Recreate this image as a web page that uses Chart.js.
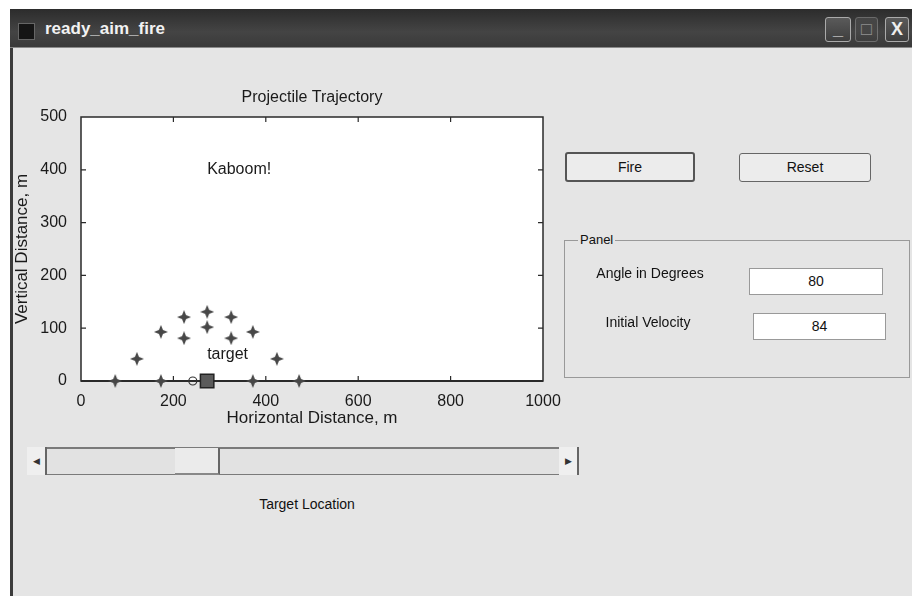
<!DOCTYPE html>
<html>
<head>
<meta charset="utf-8">
<script src="https://cdn.jsdelivr.net/npm/chart.js@4"></script>
<style>
  body { margin: 0; width: 912px; height: 596px; background: #fff; position: relative; overflow: hidden;
         font-family: "Liberation Sans", Arial, sans-serif; }
  .win { position: absolute; left: 10px; top: 9px; width: 902px; height: 587px; background: #e5e5e5;
         border-left: 3px solid #3c3c3c; box-sizing: border-box; }
  .titlebar { position: absolute; left: 10px; top: 9px; width: 902px; height: 38px;
              background: linear-gradient(#2c2c2c, #444 60%, #3a3a3a); border-bottom: 1px solid #8a8a8a; }
  .titlebar .txt { position: absolute; left: 35px; top: 10px; color: #f2f2f2; font-weight: bold; font-size: 17px; }
  .titlebar .ico { position: absolute; left: 8px; top: 14px; width: 15px; height: 15px; background: #151515;
                   border: 1px solid #666; }
  .wbtn { position: absolute; top: 8px; height: 25px; border: 1px solid #aaa; border-radius: 3px;
          background: linear-gradient(#5a5a5a, #3e3e3e); box-sizing: border-box; color: #eee; text-align: center;
          font-size: 18px; line-height: 22px; font-weight: bold; }
  .btn { position: absolute; background: #ececec; box-sizing: border-box; border-radius: 3px;
         font-size: 14px; text-align: center; color: #111; }
  .lbl { position: absolute; font-size: 14px; color: #111; transform: translate(-50%, -50%); white-space: nowrap; }
  .edit { position: absolute; background: #fff; border: 1px solid #999; box-sizing: border-box;
          font-size: 14px; text-align: center; color: #111; }
  #chartWrap { position: absolute; left: 0; top: 80px; width: 580px; height: 360px; }
</style>
</head>
<body>
<div class="win"></div>
<div class="titlebar">
  <div class="ico"></div>
  <div class="txt">ready_aim_fire</div>
  <div class="wbtn" style="left:815px;width:26px;">_</div>
  <div class="wbtn" style="left:845px;width:23px;opacity:0.45;">&#9633;</div>
  <div class="wbtn" style="left:875px;width:24px;">X</div>
</div>

<div id="chartWrap"><canvas id="traj" width="580" height="360"></canvas></div>

<div class="btn" style="left:565px;top:152px;width:130px;height:30px;border:2px solid #555;line-height:26px;">Fire</div>
<div class="btn" style="left:739px;top:153px;width:132px;height:29px;border:1px solid #666;line-height:27px;">Reset</div>

<div style="position:absolute;left:564px;top:240px;width:346px;height:138px;border:1px solid #999;box-sizing:border-box;"></div>
<div style="position:absolute;left:578px;top:232px;padding:0 2px;background:#e5e5e5;font-size:13px;color:#111;">Panel</div>
<div class="lbl" style="left:650px;top:273px;">Angle in Degrees</div>
<div class="edit" style="left:749px;top:268px;width:134px;height:27px;line-height:25px;">80</div>
<div class="lbl" style="left:648px;top:322px;">Initial Velocity</div>
<div class="edit" style="left:753px;top:313px;width:133px;height:27px;line-height:25px;">84</div>

<!-- slider -->
<div style="position:absolute;left:27px;top:447px;width:552px;height:28px;background:#e2e2e2;border-top:2px solid #7a7a7a;border-bottom:1px solid #7a7a7a;box-sizing:border-box;"></div>
<div style="position:absolute;left:27px;top:447px;width:20px;height:28px;background:#efefef;border-right:2px solid #666;box-sizing:border-box;font-size:9px;line-height:28px;text-align:center;color:#333;">&#9664;</div>
<div style="position:absolute;left:175px;top:448px;width:45px;height:27px;background:#ebebeb;border-right:2px solid #666;border-bottom:2px solid #888;box-sizing:border-box;"></div>
<div style="position:absolute;left:559px;top:447px;width:20px;height:28px;background:#efefef;border-right:2px solid #666;box-sizing:border-box;font-size:9px;line-height:28px;text-align:center;color:#333;">&#9654;</div>
<div class="lbl" style="left:307px;top:504px;">Target Location</div>

<script>
// values
const xTicks = [0, 200, 400, 600, 800, 1000];
const yTicks = [0, 100, 200, 300, 400, 500];
const burstX = [74, 173, 372, 472, 121, 424, 173, 372, 223, 325, 223, 325, 273, 273];
const burstY = [0, 0, 0, 0, 42, 42, 93, 93, 121, 121, 81, 81, 131, 102];
const launchX = [242];
const launchY = [0];
const targetX = [273];
const targetY = [0];
const notes = ['Kaboom!', 'target'];
const noteX = [273, 273];
const noteY = [400, 50];

const pts = (xs, ys) => xs.map((x, i) => ({x: x, y: ys[i]}));

// four pointed star marker
const star = document.createElement('canvas');
star.width = 14; star.height = 14;
const sc = star.getContext('2d');
sc.fillStyle = '#474747';
sc.beginPath();
sc.moveTo(7, 0); sc.lineTo(9, 5); sc.lineTo(14, 7); sc.lineTo(9, 9);
sc.lineTo(7, 14); sc.lineTo(5, 9); sc.lineTo(0, 7); sc.lineTo(5, 5);
sc.closePath(); sc.fill();
sc.fillRect(5, 5, 4, 4);

const FONT = '"Liberation Sans", Arial, sans-serif';

// matlab style box with inward ticks + text objects
const axesBox = {
  id: 'axesBox',
  afterDatasetsDraw(chart) {
    const {ctx, scales: {x, y}} = chart;
    ctx.save();
    ctx.fillStyle = '#1a1a1a';
    ctx.font = '16px ' + FONT;
    ctx.textAlign = 'left';
    ctx.textBaseline = 'middle';
    notes.forEach((t, i) => ctx.fillText(t, x.getPixelForValue(noteX[i]), y.getPixelForValue(noteY[i])));
    ctx.restore();
  },
  beforeDatasetsDraw(chart) {
    const {ctx, chartArea: a, scales: {x, y}} = chart;
    ctx.save();
    ctx.fillStyle = '#fff';
    ctx.fillRect(a.left, a.top, a.right - a.left, a.bottom - a.top);
    ctx.strokeStyle = '#2a2a2a';
    ctx.lineWidth = 1.5;
    ctx.strokeRect(a.left, a.top, a.right - a.left, a.bottom - a.top);
    ctx.lineWidth = 2;
    ctx.beginPath(); ctx.moveTo(a.left, a.bottom); ctx.lineTo(a.right, a.bottom); ctx.stroke();
    ctx.lineWidth = 1.2;
    ctx.beginPath();
    xTicks.slice(1, -1).forEach(v => {
      const px = x.getPixelForValue(v);
      ctx.moveTo(px, a.bottom); ctx.lineTo(px, a.bottom - 5);
      ctx.moveTo(px, a.top); ctx.lineTo(px, a.top + 5);
    });
    yTicks.slice(1, -1).forEach(v => {
      const py = y.getPixelForValue(v);
      ctx.moveTo(a.left, py); ctx.lineTo(a.left + 5, py);
      ctx.moveTo(a.right, py); ctx.lineTo(a.right - 5, py);
    });
    ctx.stroke();
    ctx.restore();
  }
};

const trajCtx = document.getElementById('traj').getContext('2d');
const traj = new Chart(trajCtx, {
  type: 'scatter',
  data: {
    datasets: [
      { label: 'burst', data: pts(burstX, burstY), pointStyle: star, clip: false },
      { label: 'launch', data: pts(launchX, launchY), pointStyle: 'circle', pointRadius: 4,
        backgroundColor: 'rgba(0,0,0,0)', borderColor: '#333', borderWidth: 1.2, clip: false },
      { label: 'target', data: pts(targetX, targetY), pointStyle: 'rect', pointRadius: 9.5,
        backgroundColor: '#5a5a5a', borderColor: '#222', borderWidth: 1.5, clip: false }
    ]
  },
  options: {
    responsive: false,
    animation: false,
    events: [],
    layout: { padding: { left: 0, right: 37, top: 0, bottom: 0 } },
    plugins: {
      legend: { display: false },
      tooltip: { enabled: false },
      title: {
        display: true,
        text: 'Projectile Trajectory',
        fullSize: false,
        color: '#1a1a1a',
        font: { family: FONT, size: 16, weight: 'normal' },
        padding: { top: 8, bottom: 9.8 }
      }
    },
    scales: {
      x: {
        type: 'linear', min: 0, max: 1000,
        afterBuildTicks: s => { s.ticks = xTicks.map(v => ({value: v})); },
        grid: { display: false },
        border: { display: false },
        ticks: { color: '#1a1a1a', font: { family: FONT, size: 16 }, padding: 3, maxRotation: 0,
                 callback: v => String(v) },
        title: { display: true, text: 'Horizontal Distance, m', color: '#1a1a1a',
                 font: { family: FONT, size: 17 }, padding: { top: 0, bottom: 11.8 } },
        afterFit: s => { s.height = 59; }
      },
      y: {
        type: 'linear', min: 0, max: 500,
        afterBuildTicks: s => { s.ticks = yTicks.map(v => ({value: v})); },
        grid: { display: false },
        border: { display: false },
        ticks: { color: '#1a1a1a', font: { family: FONT, size: 16 }, padding: 6,
                 callback: v => String(v) },
        title: { display: true, text: 'Vertical Distance, m', color: '#1a1a1a',
                 font: { family: FONT, size: 17 }, padding: { top: 12, bottom: 0 } },
        afterFit: s => { s.width = 81; }
      }
    }
  },
  plugins: [axesBox]
});
</script>
</body>
</html>
